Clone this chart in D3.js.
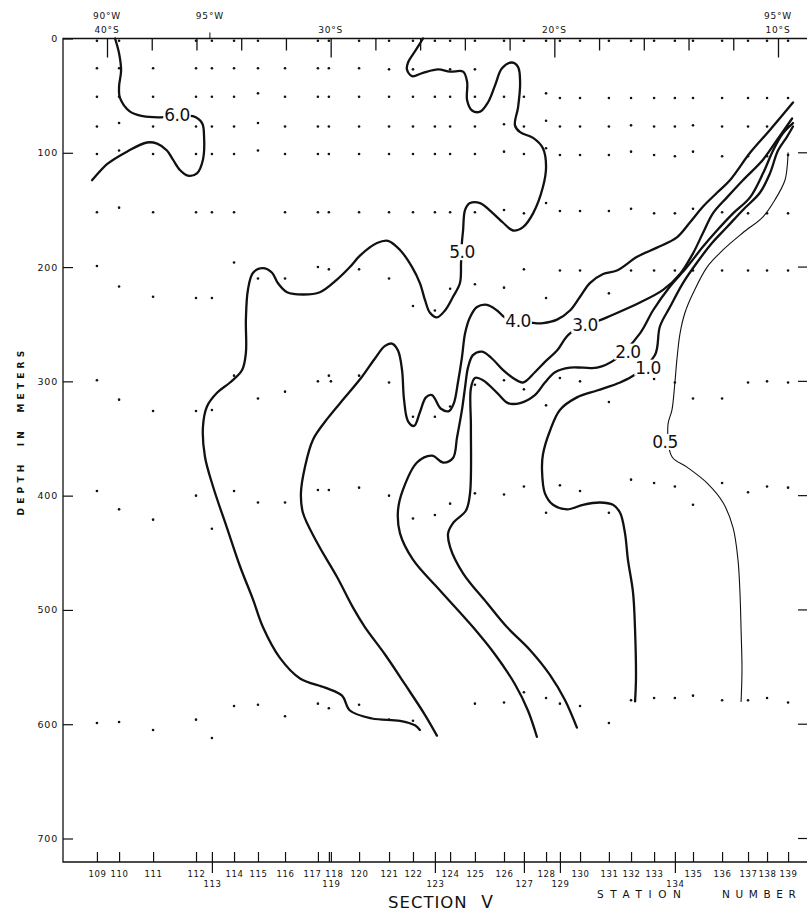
<!DOCTYPE html>
<html>
<head>
<meta charset="utf-8">
<script src="https://cdn.jsdelivr.net/npm/d3@7"></script>
<style>
  body { margin: 0; background: #fff; }
  svg { display: block; }
  text { font-family: "DejaVu Sans", sans-serif; fill: #111; }
</style>
</head>
<body>
<div id="chart"></div>
<script>
// stations along the section and where they sit (latitude, degrees S)
var stations   = [109, 110, 111, 112, 113, 114, 115, 116, 117, 118, 119, 120, 121, 122, 123, 124,
                  125, 126, 127, 128, 129, 130, 131, 132, 133, 134, 135, 136, 137, 138, 139];
var stationLat = [40.45, 39.46, 37.94, 36.02, 35.31, 34.32, 33.25, 32.04, 30.57, 30.08, 29.99, 28.73,
                  27.39, 26.32, 25.34, 24.66, 23.55, 22.25, 21.36, 20.37, 19.75, 18.85, 17.56, 16.57,
                  15.54, 14.61, 13.80, 12.50, 11.34, 10.49, 9.55];
// stations whose number is written on the second row / with a long tick
var secondRow = [113, 119, 123, 127, 129, 134];
var longTick  = [113, 123, 127, 129, 134];

// observed sample depths (m) at each station, same order as stations
var sampleDepths = [
  [2, 26, 51, 77, 101, 152, 199, 299, 396, 599],
  [2, 26, 51, 74, 98, 148, 217, 316, 412, 598],
  [26, 51, 77, 101, 152, 226, 326, 421, 605],
  [2, 26, 51, 77, 101, 152, 227, 326, 400, 596],
  [2, 26, 51, 77, 101, 152, 227, 325, 429, 612],
  [2, 26, 51, 77, 101, 152, 196, 295, 396, 584],
  [2, 26, 48, 74, 98, 210, 315, 406, 583],
  [26, 51, 77, 101, 152, 210, 309, 406, 593],
  [2, 26, 51, 77, 101, 152, 200, 300, 395, 582],
  [2, 26, 51, 77, 101, 152, 202, 295, 395, 586],
  [300],
  [2, 26, 51, 77, 101, 152, 202, 295, 393, 583],
  [2, 27, 51, 77, 101, 152, 210, 301, 400, 596],
  [2, 27, 51, 77, 101, 152, 234, 331, 420, 597],
  [2, 51, 77, 101, 152, 238, 331, 417],
  [2, 27, 51, 77, 101, 152, 219, 322, 407],
  [2, 27, 51, 77, 101, 152, 215, 303, 398, 582],
  [2, 51, 75, 99, 150, 218, 299, 399, 581],
  [2, 51, 77, 101, 153, 202, 307, 392, 572],
  [2, 48, 72, 96, 144, 227, 321, 415, 577],
  [2, 52, 77, 102, 151, 203, 297, 391, 582],
  [2, 52, 77, 102, 151, 203, 300, 396, 584],
  [2, 52, 77, 102, 151, 223, 318, 415, 599],
  [2, 52, 76, 99, 149, 203, 386, 579],
  [2, 52, 77, 102, 153, 203, 298, 389, 577],
  [2, 52, 77, 103, 153, 203, 301, 392, 577],
  [2, 52, 76, 99, 149, 203, 315, 408, 575],
  [2, 52, 77, 103, 152, 203, 315, 389, 579],
  [2, 52, 77, 103, 153, 203, 301, 397, 579],
  [2, 52, 77, 103, 153, 203, 300, 392, 577],
  [2, 52, 77, 102, 153, 203, 301, 393, 581]
];

var depthTicks = [0, 100, 200, 300, 400, 500, 600, 700];
var latTicks   = [40, 38, 36, 34, 32, 30, 28, 26, 24, 22, 20, 18, 16, 14, 12, 10];
var latLabelPos  = [40, 30, 20, 10];
var latLabelText = ["40°S", "30°S", "20°S", "10°S"];
var lonLabelPos  = [40, 35.4, 10];
var lonLabelText = ["90°W", "95°W", "95°W"];

// isolines, [latitude, depth] pairs
var levels = ["6.0", "5.0", "4.0", "3.0", "2.0", "1.0", "0.5"];
var line60 = [[39.64,0],[39.46,13],[39.37,28],[39.46,42],[39.42,52],[38.97,64],[38.39,68],[37.63,69],
  [36.16,68],[35.75,74],[35.66,86],[35.71,106],[35.98,118],[36.38,120],[36.74,115],[37.05,106],
  [37.32,98],[37.76,92],[38.21,91],[39.11,99],[40.00,110],[40.67,124]];
var line50 = [[25.87,0],[26.19,10],[26.54,21],[26.59,27],[26.36,33],[25.87,30],[25.20,27],[24.66,29],
  [24.08,29],[23.90,38],[23.90,54],[23.68,63],[23.32,64],[22.97,56],[22.65,41],[22.34,26],[21.89,21],
  [21.62,25],[21.53,39],[21.62,60],[21.76,76],[21.53,82],[20.95,87],[20.51,96],[20.37,112],[20.51,130],
  [20.95,153],[21.40,165],[21.85,168],[22.30,161],[22.74,153],[23.32,144],[23.77,144],[23.99,150],
  [24.08,168],[24.13,178],[24.17,196],[24.22,214],[24.53,226],[24.89,238],[25.25,244],[25.56,240],
  [25.78,229],[26.01,214],[26.36,200],[26.90,185],[27.44,177],[27.93,179],[28.69,190],[29.14,200],
  [29.72,211],[30.48,222],[31.24,224],[31.95,222],[32.36,214],[32.62,205],[33.03,201],[33.47,205],
  [33.70,220],[33.79,246],[33.79,275],[33.96,290],[34.50,301],[35.08,310],[35.53,322],[35.71,340],
  [35.62,366],[35.26,392],[34.64,428],[34.05,462],[33.47,491],[33.03,515],[32.27,542],[31.37,560],
  [30.25,568],[29.49,575],[29.14,588],[28.15,595],[26.90,597],[26.23,601],[26.01,605]];
var line40 = [[9.33,56],[10.36,80],[11.25,100],[12.15,124],[12.73,135],[13.35,147],[13.94,161],
  [14.52,174],[15.41,183],[16.30,191],[17.20,203],[17.82,206],[18.41,214],[18.85,226],[19.30,238],
  [19.88,246],[20.51,249],[20.87,249],[22.21,244],[22.56,238],[23.01,233],[23.46,235],[23.77,244],
  [23.99,258],[24.13,279],[24.31,301],[24.49,319],[24.71,326],[25.07,324],[25.47,312],[25.74,314],
  [26.01,327],[26.27,339],[26.54,335],[26.72,316],[26.81,290],[26.99,273],[27.26,267],[27.57,269],
  [28.02,280],[28.60,296],[29.36,314],[30.12,332],[30.79,351],[31.15,375],[31.33,398],[31.24,415],
  [30.61,441],[29.72,471],[29.00,498],[28.47,515],[27.57,539],[26.68,565],[25.78,592],[25.25,610]];
var line30 = [[9.37,70],[10.05,89],[10.67,106],[11.57,124],[12.28,139],[12.91,153],[13.35,170],
  [13.80,188],[14.38,206],[15.14,220],[16.17,231],[17.65,244],[19.30,258],[19.88,273],[20.42,283],
  [20.87,292],[21.40,301],[21.85,297],[22.30,290],[22.79,280],[23.23,274],[23.64,277],[23.86,288],
  [23.99,305],[24.13,325],[24.35,349],[24.53,367],[24.98,371],[25.47,365],[26.14,371],[26.77,395],
  [26.99,413],[26.90,433],[26.32,456],[25.11,483],[23.64,515],[22.65,539],[21.76,565],[21.18,588],
  [20.78,611]];
var line20 = [[9.33,74],[9.78,83],[10.22,98],[10.67,118],[11.25,139],[12.01,153],[12.73,168],
  [13.35,182],[14.07,200],[14.83,217],[15.59,238],[16.17,258],[17.29,281],[18.09,288],[18.72,288],
  [19.30,288],[19.97,292],[20.42,301],[20.87,312],[21.53,319],[22.07,319],[22.56,310],[23.19,299],
  [23.55,297],[23.73,306],[23.73,340],[23.77,398],[23.95,413],[24.53,424],[24.75,433],[24.66,445],
  [24.08,468],[23.01,494],[22.12,515],[21.09,535],[20.19,557],[19.52,579],[18.99,603]];
var line10 = [[9.33,77],[9.60,86],[10.00,98],[10.36,118],[10.81,135],[11.57,150],[12.28,165],
  [12.95,179],[13.62,196],[14.25,214],[14.83,235],[15.28,252],[15.50,277],[16.39,294],[17.06,301],
  [18.09,308],[18.99,314],[19.75,325],[20.19,343],[20.51,364],[20.55,378],[20.42,398],[20.06,408],
  [19.43,412],[18.72,408],[17.96,406],[17.38,408],[17.06,415],[16.84,433],[16.71,456],[16.48,485],
  [16.39,518],[16.35,560],[16.39,580]];
var line05 = [[9.55,100],[9.58,110],[9.69,124],[10.13,141],[10.67,156],[11.57,170],[12.46,185],
  [13.17,200],[13.80,223],[14.16,240],[14.38,258],[14.52,281],[14.61,301],[14.74,325],[14.92,338],
  [14.74,366],[14.07,375],[13.17,389],[12.46,406],[12.01,428],[11.79,456],[11.70,485],[11.65,518],
  [11.61,552],[11.65,580]];
var lines = [line60, line50, line40, line30, line20, line10, line05];
var labelAt = [[36.87,67],[24.13,187],[21.62,247],[18.63,251],[16.71,274],[15.81,288],[15.05,353]];

var svgWidth = 807, svgHeight = 923;
var margin = { top: 38.5, left: 63 };
var width = svgWidth - margin.left;          // frame runs off the right edge
var frameH = 862 - margin.top;

var svg = d3.select("#chart").append("svg")
  .attr("width", svgWidth)
  .attr("height", svgHeight);

var chartGroup = svg.append("g")
  .attr("transform", `translate(${margin.left}, ${margin.top})`);

var x = d3.scaleLinear().domain([40, 10]).range([107 - margin.left, 778 - margin.left]);
var y = d3.scaleLinear().domain([0, 700]).range([0, 800]);

// frame
chartGroup.append("path")
  .attr("d", `M${width},0H0V${frameH}H${width}`)
  .attr("fill", "none").attr("stroke", "#111").attr("stroke-width", 1.3);

// depth axis
var leftAxis = chartGroup.append("g")
  .call(d3.axisLeft(y).tickValues(depthTicks).tickSize(-10).tickPadding(5));
leftAxis.select(".domain").remove();
leftAxis.selectAll(".tick line").attr("stroke", "#111").attr("stroke-width", 1.2);
leftAxis.selectAll(".tick text").attr("font-size", 9.5).attr("letter-spacing", 0.8)
  .attr("font-family", "DejaVu Sans").attr("fill", "#111");

// ticks on the right edge
chartGroup.selectAll(".rtick").data(depthTicks.slice(1)).enter().append("line")
  .attr("x1", width - 9).attr("x2", width)
  .attr("y1", d => y(d)).attr("y2", d => y(d))
  .attr("stroke", "#111").attr("stroke-width", 1.2);

// latitude ticks on the top
var topAxis = chartGroup.append("g")
  .call(d3.axisTop(x).tickValues(latTicks).tickSize(-12).tickFormat(""));
topAxis.select(".domain").remove();
topAxis.selectAll(".tick line")
  .attr("y2", d => d % 10 === 0 ? 19 : 12)
  .attr("stroke", "#111").attr("stroke-width", 1.3);
chartGroup.append("line")
  .attr("x1", x(lonLabelPos[1])).attr("x2", x(lonLabelPos[1]))
  .attr("y1", -6).attr("y2", 0).attr("stroke", "#111");

chartGroup.selectAll(".latlab").data(latLabelPos).enter().append("text")
  .attr("x", d => x(d)).attr("y", -5.5)
  .attr("text-anchor", "middle").attr("font-size", 9).attr("letter-spacing", 0.8)
  .text((d, i) => latLabelText[i]);
chartGroup.selectAll(".lonlab").data(lonLabelPos).enter().append("text")
  .attr("x", d => x(d)).attr("y", -20)
  .attr("text-anchor", "middle").attr("font-size", 9).attr("letter-spacing", 0.8)
  .text((d, i) => lonLabelText[i]);

// station axis along the bottom
var labelShift = { 117: -6, 118: 5 };
var bottomAxis = chartGroup.append("g")
  .attr("transform", `translate(0, ${frameH})`)
  .call(d3.axisBottom(x).tickValues(stationLat).tickSize(-10)
    .tickFormat(d => stations[stationLat.indexOf(d)]));
bottomAxis.select(".domain").remove();
bottomAxis.selectAll(".tick line")
  .attr("y1", d => longTick.indexOf(stations[stationLat.indexOf(d)]) >= 0 ? 11 : 0)
  .attr("stroke", "#111").attr("stroke-width", 1.2);
bottomAxis.selectAll(".tick text")
  .attr("y", d => secondRow.indexOf(stations[stationLat.indexOf(d)]) >= 0 ? 19 : 8.5)
  .attr("x", d => labelShift[stations[stationLat.indexOf(d)]] || 0)
  .attr("font-size", 8.5).attr("letter-spacing", 0.6)
  .attr("font-family", "DejaVu Sans").attr("fill", "#111");

// sample points
var samples = [];
stations.forEach(function(s, i) {
  sampleDepths[i].forEach(function(d) { samples.push({ lat: stationLat[i], depth: d }); });
});
chartGroup.selectAll(".sample").data(samples).enter().append("circle")
  .attr("cx", d => x(d.lat)).attr("cy", d => y(d.depth))
  .attr("r", 1.3).attr("fill", "#111");

// isolines
var lineGen = d3.line()
  .x(d => x(d[0])).y(d => y(d[1]))
  .curve(d3.curveCatmullRom.alpha(0.5));
chartGroup.selectAll(".iso").data(lines).enter().append("path")
  .attr("d", lineGen)
  .attr("fill", "none").attr("stroke", "#111")
  .attr("stroke-width", (d, i) => levels[i] === "0.5" ? 1.1 : 2.3)
  .attr("stroke-linejoin", "round").attr("stroke-linecap", "round");

// isoline labels, with a white gap cut into the line
levels.forEach(function(lv, i) {
  var g = chartGroup.append("g");
  var t = g.append("text")
    .attr("x", x(labelAt[i][0])).attr("y", y(labelAt[i][1]))
    .attr("text-anchor", "middle").attr("dominant-baseline", "central")
    .attr("font-size", 17).attr("letter-spacing", -0.5)
    .text(lv);
  var b = t.node().getBBox();
  g.insert("rect", "text")
    .attr("x", b.x - 1).attr("y", b.y + 2)
    .attr("width", b.width + 2).attr("height", b.height - 4)
    .attr("fill", "#fff");
});

// titles
svg.append("text")
  .attr("transform", "translate(24, 431) rotate(-90)")
  .attr("text-anchor", "middle").attr("font-size", 9).attr("font-weight", "bold")
  .attr("letter-spacing", 4.2).attr("word-spacing", 7)
  .text("DEPTH IN METERS");

svg.append("text")
  .attr("x", 388).attr("y", 908)
  .attr("font-size", 16.5).attr("letter-spacing", 1)
  .text("SECTION");
svg.append("text")
  .attr("x", 487).attr("y", 908)
  .attr("text-anchor", "middle").attr("font-size", 17)
  .attr("font-family", "DejaVu Serif")
  .text("V");

svg.append("text")
  .attr("x", 597).attr("y", 898)
  .attr("font-size", 10.5).attr("letter-spacing", 6.6)
  .text("STATION");
svg.append("text")
  .attr("x", 722).attr("y", 898)
  .attr("font-size", 10.5).attr("letter-spacing", 5.6)
  .text("NUMBER");
</script>
</body>
</html>
